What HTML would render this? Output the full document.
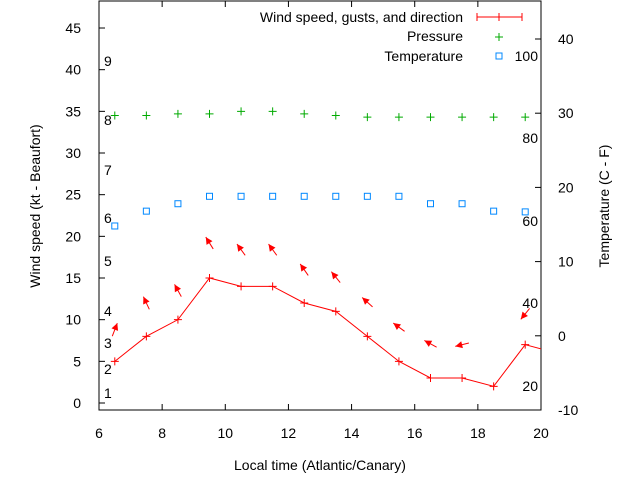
<!DOCTYPE html>
<html><head><meta charset="utf-8"><style>
body{margin:0;background:#fff}
svg text{font-family:"Liberation Sans",sans-serif;font-size:14px;fill:#000}
</style></head><body>
<svg width="640" height="480" id="c"></svg>
<script>
const hours=[6.5,7.5,8.5,9.5,10.5,11.5,12.5,13.5,14.5,15.5,16.5,17.5,18.5,19.5,20.5];
const wind=[5,8,10,15,14,14,12,11,8,5,3,3,2,7,6];
const pressure=[34.5,34.5,34.7,34.7,35,35,34.7,34.5,34.3,34.3,34.3,34.3,34.3,34.3];
const temperature=[14.8,16.8,17.8,18.8,18.8,18.8,18.8,18.8,18.8,18.8,17.8,17.8,16.8,16.7];
const gustHours=[6.5,7.5,8.5,9.5,10.5,11.5,12.5,13.5,14.5,15.5,16.5,17.5,19.5];
const gust=[8.8,12,13.5,19.2,18.4,18.4,16,15.1,12.1,9.1,7.1,7,10.7];
const dirTo=[21,335,331,328,324,324,325,321,312,306,299,256,219];
const xTicks=[6,8,10,12,14,16,18,20];
const yTicks=[0,5,10,15,20,25,30,35,40,45];
const y2Ticks=[-10,0,10,20,30,40];
const beaufort=[[1,393],[2,369],[3,343],[4,311],[5,261],[6,218],[7,170],[8,120],[9,61]];
const fahr=[[20,386],[40,303],[60,221],[80,138],[100,56]];
const L=99,R=541,T=1,B=410;
const X=v=>L+(v-6)*(R-L)/14;
const Y=v=>403-v*8.333;
const Y2=v=>335.8-v*7.42;
const svg=document.getElementById('c');
const NS='http://www.w3.org/2000/svg';
function mk(t,a,p){const e=document.createElementNS(NS,t);for(const k in a)e.setAttribute(k,a[k]);(p||svg).appendChild(e);return e;}
const clip=mk('clipPath',{id:'cp'});mk('rect',{x:L,y:T,width:R-L,height:B-T},clip);
function txt(s,x,y,anchor,name,rot){const e=mk('text',{x:x,y:y,'text-anchor':anchor||'start'});if(rot)e.setAttribute('transform',rot);e.textContent=s;

return e;}
xTicks.forEach(v=>{const x=X(v);mk('line',{x1:x,y1:B,x2:x,y2:B-6,stroke:'#000'});mk('line',{x1:x,y1:T,x2:x,y2:T+6,stroke:'#000'});txt(v,x,438,'middle','x-tick-label');});
yTicks.forEach(v=>{const y=Y(v);mk('line',{x1:L,y1:y,x2:L+6,y2:y,stroke:'#000'});txt(v,81,y+5,'end','y-tick-label');});
y2Ticks.forEach(v=>{const y=Y2(v);mk('line',{x1:R,y1:y,x2:R-6,y2:y,stroke:'#000'});txt(v,558,y+5,'start','y2-tick-label');});
mk('rect',{x:L,y:T,width:R-L,height:B-T,fill:'none',stroke:'#000'});
beaufort.forEach(b=>txt(b[0],104,b[1]+5,'start','beaufort-label'));
fahr.forEach(f=>txt(f[0],538,f[1]+5,'end','fahrenheit-label'));
txt('Local time (Atlantic/Canary)',320,470,'middle','x-axis-title');
txt('Wind speed (kt - Beaufort)',40,206,'middle','y-axis-title','rotate(-90 40 206)');
txt('Temperature (C - F)',609,206,'middle','y2-axis-title','rotate(-90 609 206)');
const g=mk('g',{'clip-path':'url(#cp)'});
const wl=mk('polyline',{points:hours.map((h,i)=>X(h)+','+Y(wind[i])).join(' '),fill:'none',stroke:'#f00'},g);

function plus(x,y,c,n){const p=mk('path',{d:`M${x-4} ${y}h8M${x} ${y-4}v8`,stroke:c},g);}
hours.forEach((h,i)=>plus(X(h),Y(wind[i]),'#f00','wind-point'));
pressure.forEach((p,i)=>plus(X(hours[i]),Y(p),'#0a0','pressure-point'));
temperature.forEach((t,i)=>{const r=mk('rect',{x:X(hours[i])-3,y:Y2(t)-3,width:6,height:6,fill:'none',stroke:'#08f'},g);
});
gustHours.forEach((h,i)=>{const cx=X(h),cy=Y(gust[i]),a=dirTo[i]*Math.PI/180,dx=Math.sin(a),dy=-Math.cos(a),l=7;
const hx=cx+dx*l,hy=cy+dy*l,tx=cx-dx*l,ty=cy-dy*l;const px=-dy,py=dx;
const a1=mk('line',{x1:tx,y1:ty,x2:hx,y2:hy,stroke:'#f00'},g);

mk('polygon',{points:`${hx},${hy} ${hx-dx*7+px*3.5},${hy-dy*7+py*3.5} ${hx-dx*7-px*3.5},${hy-dy*7-py*3.5}`,fill:'#f00'},g);});
// legend
txt('Wind speed, gusts, and direction',463,22,'end','legend-wind-label');
mk('path',{d:'M477 17h45M477 13v8M499 13v8M522 13v8',stroke:'#f00'});
txt('Pressure',463,41,'end','legend-pressure-label');
mk('path',{d:'M495 37h8M499 33v8',stroke:'#0a0'});
txt('Temperature',463,61,'end','legend-temperature-label');
mk('rect',{x:496,y:53,width:6,height:6,fill:'none',stroke:'#08f'});
</script>
</body></html>
